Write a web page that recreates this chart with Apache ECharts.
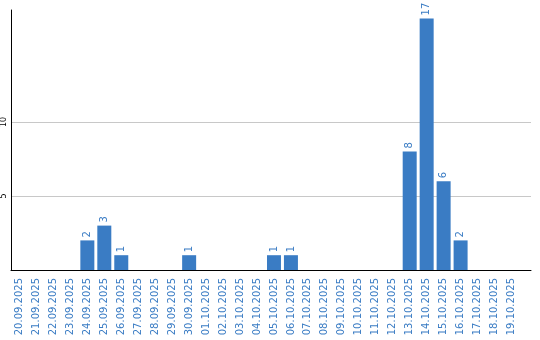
<!DOCTYPE html>
<html><head><meta charset="utf-8">
<script src="https://cdn.jsdelivr.net/npm/echarts@6/dist/echarts.min.js"></script>
<style>html,body{margin:0;padding:0;background:#fff}#c{width:540px;height:340px}</style>
</head><body><div id="c"></div>
<script>
const categories = ["20.09.2025","21.09.2025","22.09.2025","23.09.2025","24.09.2025","25.09.2025","26.09.2025","27.09.2025","28.09.2025","29.09.2025","30.09.2025","01.10.2025","02.10.2025","03.10.2025","04.10.2025","05.10.2025","06.10.2025","07.10.2025","08.10.2025","09.10.2025","10.10.2025","11.10.2025","12.10.2025","13.10.2025","14.10.2025","15.10.2025","16.10.2025","17.10.2025","18.10.2025","19.10.2025"];
const values = [0,0,0,0,2,3,1,0,0,0,1,0,0,0,0,1,1,0,0,0,0,0,0,8,17,6,2,0,0,0];
const yTicks = [5,10];

const blue = '#3a7cc4';
const chart = echarts.init(document.getElementById('c'), null, {renderer:'canvas'});
chart.setOption({
  animation:false,
  grid:{left:10,right:9,top:10,bottom:70,containLabel:false},
  xAxis:{type:'value',min:0,max:30.65,
    axisLine:{show:true,onZero:false,lineStyle:{color:'#000',width:1}},
    axisTick:{show:false},splitLine:{show:false},
    axisLabel:{customValues:categories.map((c,i)=>i+0.5),rotate:90,margin:8,color:blue,fontSize:10,fontFamily:'DejaVu Sans',
      formatter:v=>categories[Math.floor(v)]||''}},
  yAxis:{type:'value',min:0,max:17.57,
    axisLine:{show:true,lineStyle:{color:'#000',width:1}},
    axisTick:{show:false},splitLine:{show:false},
    axisLabel:{customValues:yTicks,rotate:90,margin:3,color:'#000',fontSize:8,fontFamily:'DejaVu Sans'}},
  series:[
   {type:'line',z:0,zlevel:0,data:[],silent:true,
    markLine:{z:0,zlevel:0,silent:true,symbol:'none',label:{show:false},lineStyle:{color:'#c8c8c8',type:'solid',width:1},
      data:yTicks.map(t=>({yAxis:t}))}},
   {type:'bar',z:6,barWidth:14,itemStyle:{color:blue},
    data:values.map((v,i)=>[i+0.5,v]),
    label:{show:true,position:'top',rotate:90,align:'left',verticalAlign:'middle',distance:3,color:blue,fontSize:10,fontFamily:'DejaVu Sans',
      formatter:p=>p.value[1]?String(p.value[1]):''}}
  ]
});
</script></body></html>
